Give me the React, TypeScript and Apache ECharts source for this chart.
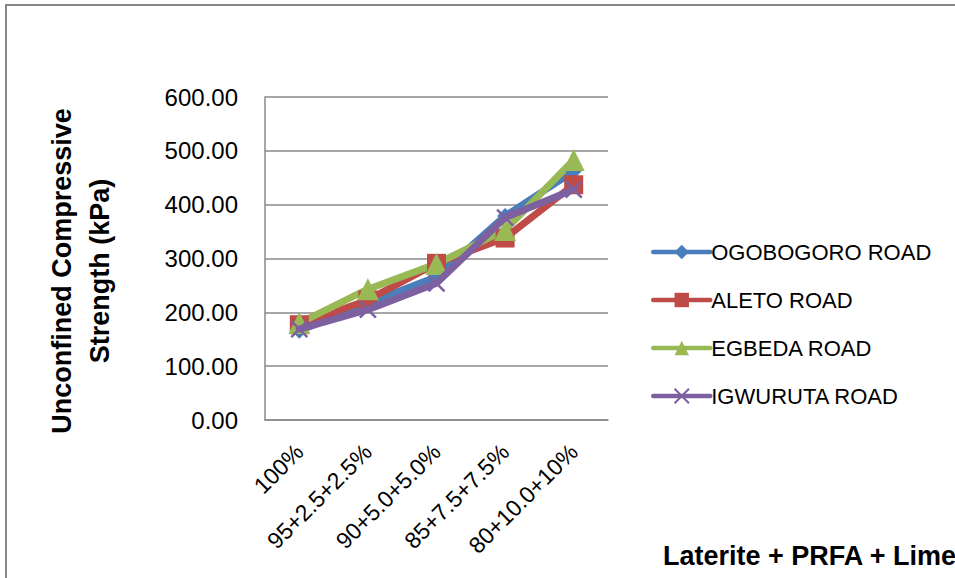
import React, { useEffect, useRef } from "react";
import * as echarts from "echarts";

const categories = ["100%", "95+2.5+2.5%", "90+5.0+5.0%", "85+7.5+7.5%", "80+10.0+10%"];
const seriesNames = ["OGOBOGORO ROAD", "ALETO ROAD", "EGBEDA ROAD", "IGWURUTA ROAD"];
const ogobogoro = [166, 217, 266, 379, 462];
const aleto = [177, 223, 291, 338, 437];
const egbeda = [180, 243, 290, 353, 483];
const igwuruta = [169, 205, 254, 376, 428];
const yTicks = { min: 0, max: 600, interval: 100 };

const colors = ["#4A7EBB", "#BE4B48", "#98B954", "#7D60A0"];
const symbols = ["diamond", "rect", "triangle", "path://M0,0L10,10M10,0L0,10"];
const symbolSizes = [16, 19, 22, 16];
const FONT = "'Liberation Sans', Arial, sans-serif";

export default function App() {
  const ref = useRef<HTMLDivElement>(null);
  useEffect(() => {
    if (!ref.current) return;
    const chart = echarts.init(ref.current, null, { renderer: "svg" });
    const data = [ogobogoro, aleto, egbeda, igwuruta];
    chart.setOption({
      animation: false,
      backgroundColor: "#ffffff",
      textStyle: { fontFamily: FONT },
      grid: { left: 265, top: 97, right: 347, bottom: 158, containLabel: false },
      legend: {
        orient: "vertical",
        left: 646,
        top: 236,
        itemWidth: 57,
        itemHeight: 18,
        itemGap: 26,
        lineStyle: { width: 4.5 },
        textStyle: { fontSize: 22, color: "#000", fontFamily: FONT, padding: [0, 0, 0, -4] },
        data: seriesNames,
      },
      xAxis: {
        type: "category",
        data: categories,
        boundaryGap: true,
        axisLine: { show: true, lineStyle: { color: "#8a8a8a", width: 1.5 } },
        axisTick: { show: false },
        axisLabel: { rotate: 45, fontSize: 23, color: "#000", margin: 28, fontFamily: FONT },
        splitLine: { show: false },
      },
      yAxis: {
        type: "value",
        min: yTicks.min,
        max: yTicks.max,
        interval: yTicks.interval,
        axisLine: { show: true, lineStyle: { color: "#8a8a8a", width: 1.5 } },
        axisTick: { show: false },
        axisLabel: {
          fontSize: 24,
          color: "#000",
          margin: 27,
          fontFamily: FONT,
          formatter: (v: number) => v.toFixed(2),
        },
        splitLine: { show: true, lineStyle: { color: "#8a8a8a", width: 1.5 } },
      },
      graphic: [
        {
          type: "rect",
          shape: { x: 6, y: 5, width: 1100, height: 800 },
          style: { fill: "none", stroke: "#868686", lineWidth: 2 },
          silent: true,
          z: -1,
        },
        {
          type: "text",
          x: 81,
          y: 271,
          rotation: Math.PI / 2,
          style: {
            text: "Unconfined Compressive\nStrength (kPa)",
            font: `bold 27px ${FONT}`,
            fill: "#000",
            align: "center",
            verticalAlign: "middle",
            lineHeight: 38,
          },
        },
        {
          type: "text",
          x: 663,
          y: 556,
          style: {
            text: "Laterite + PRFA + Lime",
            font: `bold 27px ${FONT}`,
            fill: "#000",
            align: "left",
            verticalAlign: "middle",
          },
        },
      ],
      series: seriesNames.map((name, i) => ({
        name,
        type: "line",
        data: data[i],
        symbol: symbols[i],
        symbolSize: symbolSizes[i],
        lineStyle: { color: colors[i], width: 7, cap: "round", join: "round" },
        itemStyle:
          i === 3
            ? { color: colors[i], borderColor: colors[i], borderWidth: 2.5 }
            : { color: colors[i] },
        z: 2 + (i === 3 ? 1 : 0),
      })),
    });
    return () => chart.dispose();
  }, []);
  return (
    <div
      ref={ref}
      style={{ position: "fixed", left: 0, top: 0, width: 955, height: 578, background: "#fff" }}
    />
  );
}
